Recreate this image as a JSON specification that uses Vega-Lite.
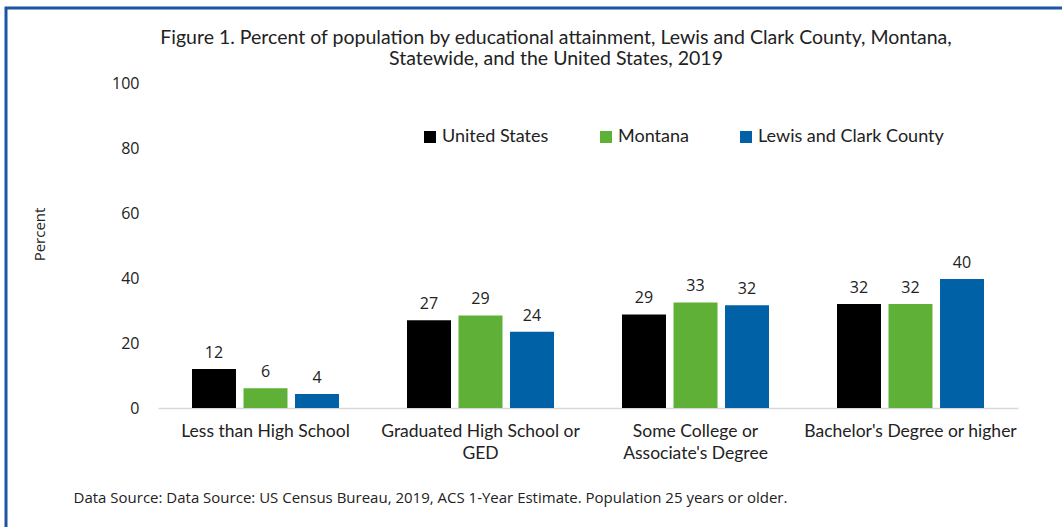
{
  "$schema": "https://vega.github.io/schema/vega-lite/v6.json",
  "autosize": {"type": "none"},
  "width": 1060,
  "height": 525,
  "padding": {"left": 6, "top": 8, "right": 0, "bottom": 0},
  "background": "white",
  "view": {"stroke": "#1c56a3", "strokeWidth": 3, "fill": "white"},
  "title": {
    "text": ["Figure 1. Percent of population by educational attainment, Lewis and Clark County, Montana,", "Statewide, and the United States, 2019"],
    "font": "Lato",
    "fontSize": 19.5,
    "fontWeight": "normal",
    "color": "#222222",
    "lineHeight": 21,
    "anchor": "middle",
    "frame": "group",
    "dx": 20,
    "offset": -61
  },
  "data": {
    "values": [
      {"edu": "Less than High School", "geo": "United States", "pct": 12},
      {"edu": "Less than High School", "geo": "Montana", "pct": 6.1},
      {"edu": "Less than High School", "geo": "Lewis and Clark County", "pct": 4.3},
      {"edu": "Graduated High School or|GED", "geo": "United States", "pct": 27},
      {"edu": "Graduated High School or|GED", "geo": "Montana", "pct": 28.5},
      {"edu": "Graduated High School or|GED", "geo": "Lewis and Clark County", "pct": 23.5},
      {"edu": "Some College or|Associate's Degree", "geo": "United States", "pct": 28.8},
      {"edu": "Some College or|Associate's Degree", "geo": "Montana", "pct": 32.5},
      {"edu": "Some College or|Associate's Degree", "geo": "Lewis and Clark County", "pct": 31.6},
      {"edu": "Bachelor's Degree or higher", "geo": "United States", "pct": 32},
      {"edu": "Bachelor's Degree or higher", "geo": "Montana", "pct": 32},
      {"edu": "Bachelor's Degree or higher", "geo": "Lewis and Clark County", "pct": 39.7}
    ]
  },
  "encoding": {
    "x": {
      "field": "edu",
      "type": "nominal",
      "sort": null,
      "scale": {"range": [152, 1012], "paddingInner": 0, "paddingOuter": 0},
      "axis": {
        "orient": "bottom",
        "offset": -125,
        "labelAngle": 0,
        "labelExpr": "split(datum.value, '|')",
        "labelFont": "Lato",
        "labelFontSize": 17.5,
        "labelColor": "#222222",
        "labelLineHeight": 22,
        "labelPadding": 14,
        "labelLimit": 0,
        "ticks": false,
        "domainColor": "#d9d9d9",
        "domainWidth": 1.5,
        "grid": false,
        "title": "Data Source: Data Source: US Census Bureau, 2019, ACS 1-Year Estimate. Population 25 years or older.",
        "titleFont": "Open Sans",
        "titleFontSize": 15,
        "titleFontWeight": "normal",
        "titleColor": "#222222",
        "titleAnchor": "start",
        "titleAlign": "left",
        "titleBaseline": "alphabetic",
        "titleX": 67,
        "titleY": 94,
        "titleLimit": 0
      }
    },
    "xOffset": {
      "field": "geo",
      "type": "nominal",
      "sort": ["United States", "Montana", "Lewis and Clark County"],
      "scale": {"paddingInner": 0.146, "paddingOuter": 0.66}
    },
    "y": {
      "field": "pct",
      "type": "quantitative",
      "scale": {"domain": [0, 100], "range": [400, 75], "nice": false, "zero": true},
      "axis": {
        "orient": "left",
        "offset": -152,
        "values": [0, 20, 40, 60, 80, 100],
        "domain": false,
        "ticks": false,
        "grid": false,
        "labelFont": "Open Sans",
        "labelFontSize": 16,
        "labelColor": "#222222",
        "labelPadding": 19,
        "title": "Percent",
        "titleFont": "Open Sans",
        "titleFontSize": 15,
        "titleFontWeight": "normal",
        "titleColor": "#222222",
        "titleAngle": -90,
        "titleAlign": "center",
        "titleBaseline": "middle",
        "titleX": -119,
        "titleY": 226
      }
    }
  },
  "layer": [
    {
      "mark": {"type": "bar"},
      "encoding": {
        "color": {
          "field": "geo",
          "type": "nominal",
          "scale": {
            "domain": ["United States", "Montana", "Lewis and Clark County"],
            "range": ["#000000", "#5eb036", "#0061a7"]
          },
          "legend": {
            "title": null,
            "orient": "none",
            "direction": "horizontal",
            "legendX": 415,
            "legendY": 120,
            "padding": 0,
            "symbolType": "square",
            "symbolSize": 144,
            "symbolStrokeWidth": 0,
            "labelFont": "Lato",
            "labelFontSize": 18,
            "labelColor": "#222222",
            "labelOffset": 3,
            "labelLimit": 0,
            "columnPadding": 48
          }
        }
      }
    },
    {
      "mark": {"type": "text", "baseline": "alphabetic", "dy": -11, "font": "Open Sans", "fontSize": 16, "color": "#222222"},
      "encoding": {
        "text": {"field": "pct", "type": "quantitative", "format": ".0f"}
      }
    }
  ]
}
